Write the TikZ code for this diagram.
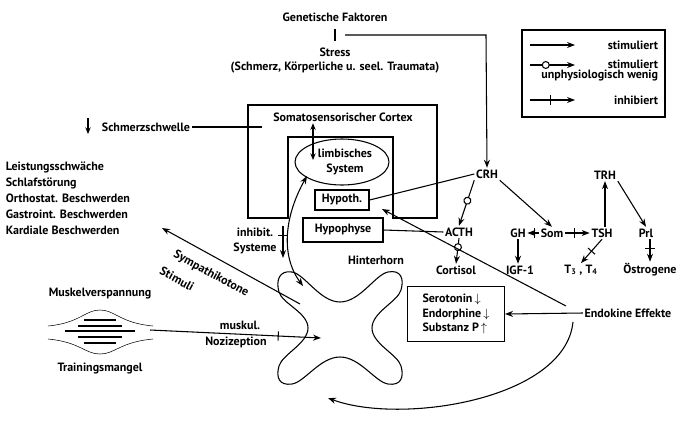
\documentclass[tikz,border=0pt]{standalone}
\usepackage{fontspec}
\setmainfont{PT Sans}
\usetikzlibrary{arrows.meta,decorations.markings,positioning,shapes.geometric}
\tikzset{
  stim/.style={-{Stealth[length=6pt,width=4.5pt]},thick},
  tick/.style={postaction={decorate},decoration={markings,mark=at position #1 with {\draw[-,thick] (0,-3.5pt) -- (0,3.5pt);}}},
  circ/.style={postaction={decorate},decoration={markings,mark=at position #1 with {\draw[-,thick,fill=white] (0,0) circle (2.6pt);}}},
  txt/.style={inner sep=1pt,font=\fontsize{9}{11}\selectfont\bfseries},
  box/.style={draw,thick,inner sep=3pt,font=\fontsize{9}{11}\selectfont\bfseries}
}
\begin{document}
\begin{tikzpicture}[x=0.75pt,y=-0.75pt,thick]
\useasboundingbox (0,0) rectangle (685,429);
% top
\node[txt] (gen) at (335,17) {Genetische Faktoren};
\node[txt] (stress) at (335,52) {Stress};
\node[txt] (trauma) at (335,67) {(Schmerz, Körperliche u. seel. Traumata)};
\draw (335,29) -- (335,41);
\coordinate (gline) at (345,35);
\coordinate (gcorner) at (486,35);
% cortex
\draw (248,105) -- (437,105) -- (437,218) -- (393,218) -- (393,137) -- (288,137) -- (288,218) -- (248,218) -- cycle;
\node[txt] (cortex) at (343,117) {Somatosensorischer Cortex};
\node[draw,thick,ellipse,minimum width=94pt*0.75,minimum height=46pt*0.75,inner sep=0pt,txt,align=center] (limb) at (342,162) {\enspace limbisches\\\enspace System};
\node[box,inner sep=2pt,minimum width=54pt*0.75,minimum height=20pt*0.75] (hypoth) at (342,200) {Hypoth.};
\node[box,minimum width=60pt,minimum height=18pt] (hypoph) at (343,230) {Hypophyse};
\draw[{Stealth[length=5pt,width=4pt]}-{Stealth[length=5pt,width=4pt]}] (cortex.south -| 313,0) -- (313,160);
% left side
\node[txt] (schwelle) at (146,127) {Schmerzschwelle};
\draw[-{Stealth[length=5pt,width=4pt]}] (88,118) -- (88,134);
\draw (schwelle.east) -- (262,127);
\node[txt,align=left,anchor=north west] (symptoms) at (4,160) {Leistungsschwäche\\[1pt]Schlafstörung\\[1pt]Orthostat. Beschwerden\\[1pt]Gastroint. Beschwerden\\[1pt]Kardiale Beschwerden};
\node[txt,align=center] (inhib) at (255,241) {inhibit.\\Systeme};
\draw[stim,tick=0.3] (283,226) -- (283,258);
% hinterhorn
\draw[thick] plot[smooth cycle,tension=0.75] coordinates {(279,292) (292,272) (340,302) (388,272) (401,290) (372,328) (401,366) (388,384) (340,357) (292,384) (279,366) (308,328)};
\node[txt] (hh) at (376,260) {Hinterhorn};
\coordinate (hhtop) at (303,286);
\draw[{Stealth[length=6pt,width=4.5pt]}-{Stealth[length=6pt,width=4.5pt]}] (307,176) .. controls (285,215) and (280,255) .. (hhtop);
\coordinate (sympend) at (300,304);
\draw[stim] (sympend) -- (162,228);
\node[txt,rotate=-28.5] (symp) at (211,274) {Sympathikotone};
\node[txt,rotate=-28.5] (stimuli) at (177,279) {Stimuli};
% muscle
\node[txt] (muskel) at (100,294) {Muskelverspannung};
\node[txt] (training) at (100,368) {Trainingsmangel};
\draw[thin] (48,326) .. controls (80,323) and (85,310) .. (100,310) .. controls (115,310) and (120,323) .. (153,326);
\draw[thin] (48,339) .. controls (80,342) and (85,354) .. (100,354) .. controls (115,354) and (120,342) .. (153,339);
\foreach \yy/\w in {320/16,326/22,331/35,337/22,343/16} \draw[line width=1.2pt] (100-\w,\yy) -- (100+\w,\yy);
\coordinate (muscleout) at (150,330);
\coordinate (hhmid) at (321,338);
\draw[stim,tick=0.75] (muscleout) -- (hhmid);
\node[txt] (muskul) at (240,325) {muskul.};
\node[txt] (nozi) at (236,342) {Nozizeption};
% hormones
\node[txt] (crh) at (487,174) {CRH};
\draw[stim] (gline) -- (gcorner) -- (crh.north);
\node[txt] (acth) at (459,232) {ACTH};
\node[txt] (cortisol) at (456,270) {Cortisol};
\node[txt] (gh) at (518,233) {GH};
\node[txt] (som) at (552,233) {Som};
\node[txt] (tsh) at (602,233) {TSH};
\node[txt] (igf) at (520,270) {IGF-1};
\node[txt] (t34) at (581,270) {T\textsubscript{3} , T\textsubscript{4}};
\node[txt] (trh) at (605,175) {TRH};
\node[txt] (prl) at (646,233) {Prl};
\node[txt] (oest) at (650,270) {Östrogene};
\node[txt] (endo) at (628,313) {Endokine Effekte};
\node[box,align=left,minimum width=97pt*0.75,minimum height=55pt*0.75] (sero) at (456,314) {Serotonin\,$\downarrow$\\Endorphine\,$\downarrow$\\Substanz P\,$\uparrow$};
\draw (crh.west) -- (hypoth.east);
\draw[stim,circ=0.45] (crh.south west) -- (acth.north);
\draw (hypoph.east) -- (acth.west);
\draw[stim,circ=0.35] (acth.south) -- (cortisol.north);
\draw[stim] (crh.south east) -- (som.north);
\draw[stim,tick=0.4] (som.west) -- (gh.east);
\draw[stim,tick=0.4] (som.east) -- (tsh.west);
\draw[stim] (gh.south) -- (igf.north -| gh.south);
\draw[stim] (tsh.north -| trh.south) -- (trh.south);
\draw[stim] (trh.south east) -- (prl.north);
\draw[stim,tick=0.4] (prl.south -| oest.north) -- (oest.north);
\draw[stim,tick=0.5] (tsh.south) -- (t34.north);
\coordinate (endofb) at (566,306);
\draw[stim] (endofb) -- (382,209);
\draw[stim] (endo.west) -- (sero.east);
\coordinate (curveend) at (328,398);
\draw[stim] (573,322) .. controls (565,400) and (400,425) .. (curveend);
% legend
\node[draw,thick,minimum width=143pt*0.75,minimum height=87pt*0.75] (legend) at (593.5,73.5) {};
\node[txt,anchor=east] (l1) at (660,45) {stimuliert};
\node[txt,anchor=east] (l2) at (660,64) {stimuliert};
\node[txt,anchor=east] (l2b) at (660,76) {unphysiologisch wenig};
\node[txt,anchor=east] (l3) at (660,100) {inhibiert};
\draw[stim] (530,45) -- (575,45);
\draw[stim,circ=0.35] (530,65) -- (575,65);
\draw[stim,tick=0.45] (530,100) -- (575,100);
\end{tikzpicture}
\end{document}
